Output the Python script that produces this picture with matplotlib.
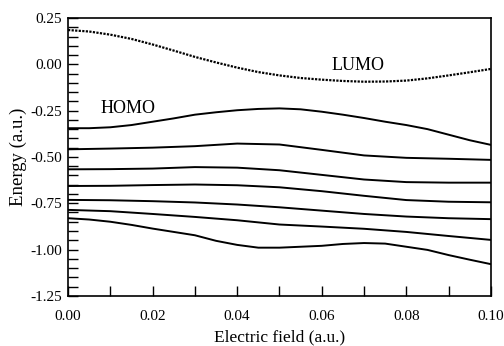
import numpy as np
import matplotlib.pyplot as plt
from matplotlib.ticker import MultipleLocator

plt.rcParams['font.family'] = ['Liberation Serif', 'DejaVu Serif']

# electric field values (a.u.)
x_fine = [0.000, 0.005, 0.010, 0.015, 0.020, 0.025, 0.030, 0.035, 0.040, 0.045,
          0.050, 0.055, 0.060, 0.065, 0.070, 0.075, 0.080, 0.085, 0.090, 0.095, 0.100]
x_coarse = [0.00, 0.01, 0.02, 0.03, 0.04, 0.05, 0.06, 0.07, 0.08, 0.09, 0.10]

lumo = [0.185, 0.177, 0.160, 0.137, 0.107, 0.074, 0.040, 0.010, -0.018, -0.042,
        -0.060, -0.074, -0.083, -0.090, -0.094, -0.093, -0.088, -0.076, -0.060, -0.043, -0.025]
homo = [-0.345, -0.345, -0.340, -0.328, -0.310, -0.292, -0.272, -0.259, -0.248, -0.241,
        -0.238, -0.243, -0.256, -0.272, -0.290, -0.310, -0.328, -0.350, -0.380, -0.410, -0.435]
level2 = [-0.459, -0.455, -0.450, -0.442, -0.428, -0.433, -0.462, -0.492, -0.505, -0.510, -0.516]
level3 = [-0.567, -0.566, -0.563, -0.555, -0.558, -0.572, -0.597, -0.622, -0.636, -0.639, -0.639]
level4 = [-0.657, -0.656, -0.652, -0.649, -0.653, -0.664, -0.685, -0.710, -0.733, -0.742, -0.745]
level5 = [-0.732, -0.734, -0.739, -0.746, -0.757, -0.772, -0.790, -0.808, -0.822, -0.831, -0.836]
level6 = [-0.786, -0.793, -0.808, -0.824, -0.842, -0.865, -0.876, -0.888, -0.905, -0.927, -0.948]
level7 = [-0.831, -0.838, -0.850, -0.867, -0.887, -0.905, -0.923, -0.953, -0.975, -0.990,
          -0.990, -0.985, -0.980, -0.970, -0.965, -0.968, -0.985, -1.002, -1.030, -1.055, -1.079]

fig = plt.figure(figsize=(5.04, 3.46), dpi=100)
ax = fig.add_axes([0.135, 0.145, 0.839, 0.803])

ax.plot(x_fine, lumo, color='black', lw=1.6, linestyle=(0, (1, 0.6)))
ax.plot(x_fine, homo, color='black', lw=1.4)
for lev in [level2, level3, level4, level5, level6]:
    ax.plot(x_coarse, lev, color='black', lw=1.4)
ax.plot(x_fine, level7, color='black', lw=1.4)

ax.text(0.0142, -0.236, 'HOMO', fontsize=13, ha='center', va='center')
ax.text(0.0686, -0.004, 'LUMO', fontsize=13, ha='center', va='center')

ax.set_xlim(0, 0.10)
ax.set_ylim(-1.25, 0.25)
ax.xaxis.set_major_locator(MultipleLocator(0.02))
ax.xaxis.set_minor_locator(MultipleLocator(0.01))
ax.yaxis.set_major_locator(MultipleLocator(0.25))
ax.yaxis.set_minor_locator(MultipleLocator(0.05))
ax.xaxis.set_major_formatter(lambda v, p: f'{v:.2f}')
ax.yaxis.set_major_formatter(lambda v, p: f'{v:.2f}')
ax.tick_params(which='both', direction='in', top=False, right=False,
               length=7, width=1.0, labelsize=11)
ax.tick_params(axis='x', pad=10)
ax.tick_params(axis='y', pad=4)
for s in ax.spines.values():
    s.set_linewidth(1.2)

ax.set_xlabel('Electric field (a.u.)', fontsize=12.5, labelpad=5)
ax.set_ylabel('Energy (a.u.)', fontsize=13.5, labelpad=3)

fig.savefig('out.png', dpi=100)
